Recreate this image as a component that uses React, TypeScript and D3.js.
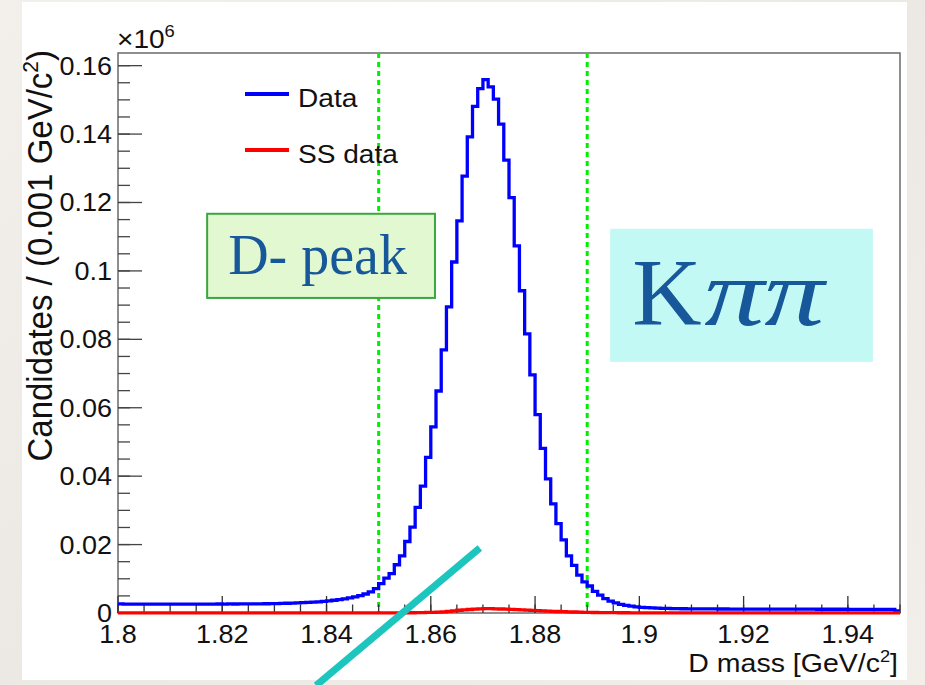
import React from "react";
import * as d3 from "d3";

// ---------------- data ----------------
const X_MIN = 1.8;
const X_MAX = 1.95;
const BIN_WIDTH = 0.001;

// "Data" histogram, candidates per 0.001 GeV/c^2, 150 bins from 1.800 to 1.950
const dataCounts = [
  2650, 2620, 2600, 2610, 2590, 2600, 2580, 2600, 2590, 2580,
  2600, 2590, 2600, 2610, 2600, 2620, 2610, 2600, 2620, 2630,
  2620, 2640, 2630, 2650, 2660, 2650, 2670, 2690, 2700, 2720,
  2760, 2800, 2850, 2900, 2950, 3020, 3100, 3180, 3280, 3400,
  3550, 3720, 3920, 4150, 4420, 4730, 5100, 5550, 6150, 7100,
  8600, 10200, 11500, 14100, 16700, 20900, 25100, 30900, 37100, 45500,
  54400, 64900, 76900, 89500, 102600, 114600, 127700, 139200, 148100, 153300,
  155900, 153800, 150200, 142900, 132400, 121400, 107300, 94200, 81600, 69600,
  58000, 48100, 39200, 31900, 26100, 21400, 16700, 13900, 11100, 9100,
  7900, 6300, 5200, 4200, 3450, 2950, 2500, 2200, 2000, 1800,
  1650, 1550, 1480, 1420, 1380, 1330, 1300, 1270, 1240, 1220,
  1200, 1190, 1190, 1180, 1180, 1170, 1170, 1160, 1160, 1150,
  1150, 1150, 1140, 1140, 1140, 1130, 1130, 1130, 1120, 1120,
  1120, 1110, 1110, 1110, 1100, 1100, 1100, 1090, 1090, 1090,
  1080, 1080, 1080, 1070, 1070, 1070, 1060, 1060, 1050, 650,
];

// "SS data" histogram
const ssCounts = [
  40, 40, 40, 40, 40, 40, 40, 40, 40, 40,
  40, 40, 40, 40, 40, 40, 40, 40, 40, 40,
  40, 40, 40, 40, 40, 40, 40, 40, 40, 40,
  40, 40, 40, 40, 40, 40, 40, 40, 40, 40,
  40, 40, 40, 40, 45, 45, 45, 50, 50, 50,
  50, 55, 55, 60, 60, 65, 80, 100, 130, 160,
  200, 260, 350, 500, 650, 800, 920, 1030, 1130, 1200,
  1260, 1250, 1220, 1170, 1110, 1040, 970, 900, 830, 760,
  690, 620, 560, 500, 440, 390, 340, 290, 250, 210,
  180, 150, 130, 110, 95, 85, 75, 70, 65, 60,
  55, 55, 55, 50, 50, 50, 50, 50, 50, 50,
  45, 45, 45, 45, 45, 45, 45, 45, 45, 45,
  45, 45, 45, 40, 40, 40, 40, 40, 40, 40,
  40, 40, 40, 40, 40, 40, 40, 40, 40, 40,
  40, 40, 40, 40, 40, 40, 40, 40, 40, 40,
];

const xTicks = [1.8, 1.82, 1.84, 1.86, 1.88, 1.9, 1.92, 1.94];
const xTickLabels = ["1.8", "1.82", "1.84", "1.86", "1.88", "1.9", "1.92", "1.94"];
const yTicks = [0, 20000, 40000, 60000, 80000, 100000, 120000, 140000, 160000];
const yTickLabels = ["0", "0.02", "0.04", "0.06", "0.08", "0.1", "0.12", "0.14", "0.16"];
const cutLines = [1.85, 1.89];

const legendEntries = [
  { label: "Data", color: "#0000ff" },
  { label: "SS data", color: "#ff0000" },
];

// annotation anchors in data coordinates
const dPeakBox = { x0: 1.8171, x1: 1.8608, y0: 92100, y1: 116700 };
const kpipiBox = { x0: 1.8944, x1: 1.9448, y0: 73400, y1: 112300 };
const arrowLine = { x0: 1.8694, y0: 19000, x1: 1.8380, y1: -21200 };

const SANS = "'Liberation Sans', Arial, Helvetica, sans-serif";
const SERIF = "'Liberation Serif', 'Times New Roman', serif";
const STRETCH = 1.08;

export default function App() {
  const W = 925;
  const H = 685;
  const x = d3.scaleLinear().domain([X_MIN, X_MAX]).range([118, 900]);
  const y = d3.scaleLinear().domain([0, 163700]).range([613, 53]);
  const [px0, px1] = x.range();
  const [py0, py1] = y.range();

  const stepPath = (counts: number[]) => {
    const pts: [number, number][] = counts.map((v, i) => [X_MIN + i * BIN_WIDTH, v]);
    pts.push([X_MIN + counts.length * BIN_WIDTH, counts[counts.length - 1]]);
    return (
      d3
        .line<[number, number]>()
        .x((d) => x(d[0]))
        .y((d) => y(d[1]))
        .curve(d3.curveStepAfter)(pts) || ""
    );
  };

  const xMinor = d3.range(0, 31).map((i) => X_MIN + i * 0.005);
  const yMinor = d3.range(0, 33).map((i) => i * 5000);

  const majorY = 24;
  const minorY = 12;
  const majorX = 17;
  const minorX = 8.5;

  return (
    <svg
      width={W}
      height={H}
      style={{ position: "absolute", left: 0, top: 0, display: "block" }}
      xmlns="http://www.w3.org/2000/svg"
    >
      <defs>
        <linearGradient id="marble" x1="0" y1="0" x2="1" y2="1">
          <stop offset="0" stopColor="#f3f0ec" />
          <stop offset="0.5" stopColor="#ece8e3" />
          <stop offset="1" stopColor="#f2efeb" />
        </linearGradient>
      </defs>
      <rect x={0} y={0} width={W} height={H} fill="url(#marble)" />
      <rect x={22} y={2} width={885} height={678} fill="#ffffff" />

      {/* frame */}
      <rect
        x={px0}
        y={py1}
        width={px1 - px0}
        height={py0 - py1}
        fill="none"
        stroke="#6a6a6a"
        strokeWidth={1.5}
      />

      {/* cut lines */}
      {cutLines.map((c) => (
        <line
          key={c}
          x1={x(c)}
          x2={x(c)}
          y1={py1}
          y2={py0}
          stroke="#00ee00"
          strokeWidth={3}
          strokeDasharray="5,4"
        />
      ))}

      {/* y ticks */}
      {yMinor.map((v) => (
        <line key={"ym" + v} x1={px0} x2={px0 + minorY} y1={y(v)} y2={y(v)} stroke="#444" strokeWidth={1.3} />
      ))}
      {yTicks.map((v) => (
        <line key={"yM" + v} x1={px0} x2={px0 + majorY} y1={y(v)} y2={y(v)} stroke="#444" strokeWidth={1.3} />
      ))}
      {/* x ticks */}
      {xMinor.map((v, i) => (
        <line key={"xm" + i} x1={x(v)} x2={x(v)} y1={py0} y2={py0 - minorX} stroke="#333" strokeWidth={1.3} />
      ))}
      {xTicks.map((v) => (
        <line key={"xM" + v} x1={x(v)} x2={x(v)} y1={py0} y2={py0 - majorX} stroke="#333" strokeWidth={1.3} />
      ))}

      {/* histograms */}
      <path d={stepPath(dataCounts)} fill="none" stroke="#0000ff" strokeWidth={3.3} />
      <path d={stepPath(ssCounts)} fill="none" stroke="#ff0000" strokeWidth={3.3} />

      {/* tick labels */}
      {yTicks.map((v, i) => (
        <g key={"yl" + v} transform={`translate(${px0 - 6},${y(v) + 9}) scale(${STRETCH},1)`}>
          <text textAnchor="end" fontFamily={SANS} fontSize={25} fill="#111">
            {yTickLabels[i]}
          </text>
        </g>
      ))}
      {xTicks.map((v, i) => (
        <g key={"xl" + v} transform={`translate(${x(v)},${py0 + 30}) scale(${STRETCH},1)`}>
          <text textAnchor="middle" fontFamily={SANS} fontSize={25} fill="#111">
            {xTickLabels[i]}
          </text>
        </g>
      ))}

      {/* exponent */}
      <g transform={`translate(${px0 - 1},48) scale(${STRETCH},1)`}>
        <text fontFamily={SANS} fontSize={26} fill="#111">
          ×10
          <tspan fontSize={17} dy={-11}>6</tspan>
        </text>
      </g>

      {/* axis titles */}
      <g transform={`translate(52,50) rotate(-90) scale(1,1.06)`}>
        <text textAnchor="end" fontFamily={SANS} fontSize={33} fill="#111">
          Candidates / (0.001 GeV/c
          <tspan fontSize={21} dy={-13}>2</tspan>
          <tspan dy={13}>)</tspan>
        </text>
      </g>
      <g transform={`translate(${px1 - 2},672) scale(1.14,1)`}>
        <text textAnchor="end" fontFamily={SANS} fontSize={25} fill="#111">
          D mass [GeV/c
          <tspan fontSize={16} dy={-10}>2</tspan>
          <tspan dy={10}>]</tspan>
        </text>
      </g>

      {/* legend */}
      {legendEntries.map((e, i) => {
        const ly = 94 + i * 56;
        return (
          <g key={e.label}>
            <line x1={245} x2={289} y1={ly} y2={ly} stroke={e.color} strokeWidth={4} />
            <g transform={`translate(298,${ly + 13}) scale(${STRETCH},1)`}>
              <text fontFamily={SANS} fontSize={26} fill="#111">
                {e.label}
              </text>
            </g>
          </g>
        );
      })}

      {/* D- peak box */}
      <rect
        x={x(dPeakBox.x0)}
        y={y(dPeakBox.y1)}
        width={x(dPeakBox.x1) - x(dPeakBox.x0)}
        height={y(dPeakBox.y0) - y(dPeakBox.y1)}
        fill="#e2f8d0"
        stroke="#3aa63e"
        strokeWidth={2}
      />
      <text
        x={x(dPeakBox.x0) + 21}
        y={y(dPeakBox.y0) - 24}
        fontFamily={SERIF}
        fontSize={56}
        fill="#17589a"
      >
        D- peak
      </text>

      {/* K pi pi box */}
      <rect
        x={x(kpipiBox.x0)}
        y={y(kpipiBox.y1)}
        width={x(kpipiBox.x1) - x(kpipiBox.x0)}
        height={y(kpipiBox.y0) - y(kpipiBox.y1)}
        fill="#c2f9f5"
      />
      <text
        x={x(kpipiBox.x0) + 22}
        y={y(kpipiBox.y0) - 37}
        fontFamily={SERIF}
        fontSize={96}
        fill="#17589a"
      >
        K
      </text>
      <g transform={`translate(${x(kpipiBox.x0) + 94},${y(kpipiBox.y0) - 37}) scale(1.25,1)`}>
        <text fontFamily={SERIF} fontSize={96} fontStyle="italic" fill="#17589a">
          ππ
        </text>
      </g>

      {/* annotation stroke */}
      <line
        x1={x(arrowLine.x0)}
        y1={y(arrowLine.y0)}
        x2={x(arrowLine.x1)}
        y2={y(arrowLine.y1)}
        stroke="#1cc6be"
        strokeWidth={7}
      />
    </svg>
  );
}
